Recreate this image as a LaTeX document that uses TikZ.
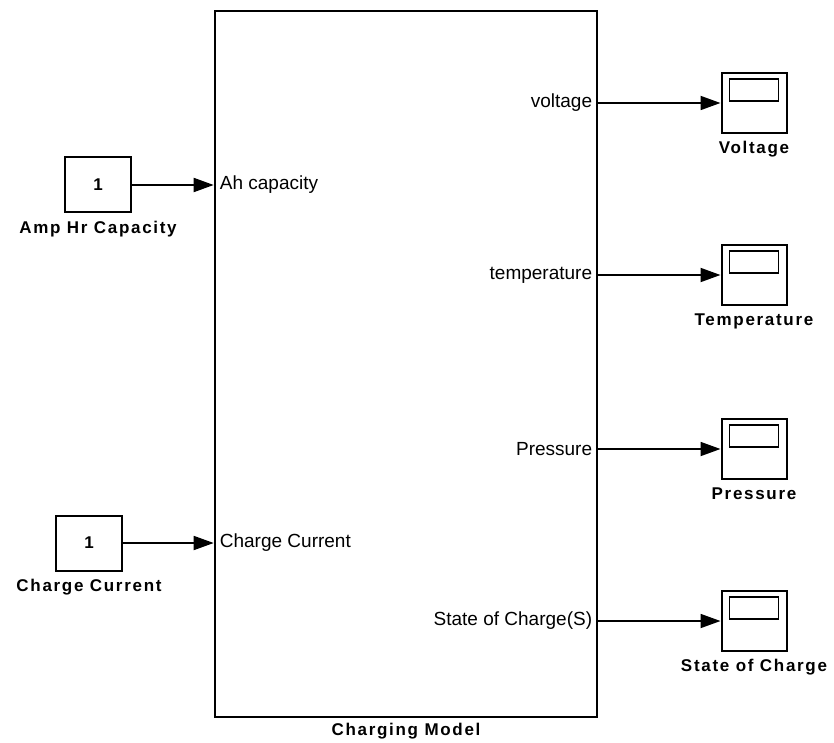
\documentclass[tikz,border=0pt]{standalone}
\usepackage{fontspec}
\setmainfont{Liberation Sans}
\newfontfamily\blkfont[LetterSpace=10]{Liberation Sans}
\usetikzlibrary{arrows.meta,positioning}

\begin{document}
\begin{tikzpicture}[
  x=1pt, y=-1pt,
  >={Triangle[length=20pt,width=14pt]},
  blk/.style={draw, line width=2pt, minimum width=66pt, minimum height=55pt,
              inner sep=0pt, font=\bfseries\fontsize{17}{19}\selectfont},
  scp/.style={draw, line width=2pt, minimum width=65pt, minimum height=60pt, inner sep=0pt,
              path picture={\draw[line width=1.6pt]
                ([xshift=8pt,yshift=-6pt]path picture bounding box.north west) rectangle
                ([xshift=-8pt,yshift=-28pt]path picture bounding box.north east);}},
  lbl/.style={label distance=4pt, font=\blkfont\bfseries\fontsize{17}{19}\selectfont},
  prt/.style={font=\fontsize{19}{21}\selectfont, inner sep=6pt},
  sig/.style={->, line width=1.8pt},
]
  \useasboundingbox (0,0) rectangle (834,743);
  % subsystem
  \node[draw, line width=2.6pt, minimum width=382pt, minimum height=706pt,
        label={[lbl, label distance=1pt]below:Charging Model}] (model) at (406,364) {};
  % sources
  \node[blk, label={[lbl]below:Amp Hr Capacity}] (ahc) at (98,185) {1};
  \node[blk, label={[lbl]below:Charge Current}] (cur) at (89,543) {1};
  % scopes
  \node[scp, label={[lbl]below:Voltage}]         (vs) at (754,103) {};
  \node[scp, label={[lbl]below:Temperature}]     (ts) at (754,275) {};
  \node[scp, label={[lbl]below:Pressure}]        (ps) at (754,449) {};
  \node[scp, label={[lbl]below:State of Charge}] (ss) at (754,621) {};
  % ports
  \coordinate (iah) at (model.west |- ahc);
  \coordinate (icu) at (model.west |- cur);
  \coordinate (ov) at (model.east |- vs);
  \coordinate (ot) at (model.east |- ts);
  \coordinate (op) at (model.east |- ps);
  \coordinate (os) at (model.east |- ss);
  \node[prt, anchor=west] at (iah) {Ah capacity};
  \node[prt, anchor=west] at (icu) {Charge Current};
  \node[prt, anchor=east] at (ov) {voltage};
  \node[prt, anchor=east] at (ot) {temperature};
  \node[prt, anchor=east] at (op) {Pressure};
  \node[prt, anchor=east] at (os) {State of Charge(S)};
  % signals
  \draw[sig] (ahc) -- (iah);
  \draw[sig] (cur) -- (icu);
  \draw[sig] (ov) -- (vs);
  \draw[sig] (ot) -- (ts);
  \draw[sig] (op) -- (ps);
  \draw[sig] (os) -- (ss);
\end{tikzpicture}
\end{document}
